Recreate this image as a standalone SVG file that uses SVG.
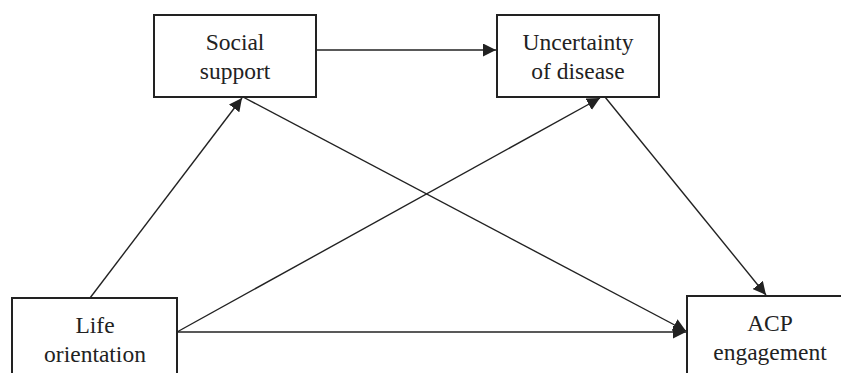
<svg xmlns="http://www.w3.org/2000/svg" width="841" height="373" viewBox="0 0 841 373">
<style>
.box{fill:#fff;stroke:#222;stroke-width:2}
.lbl{font-family:'Liberation Serif','DejaVu Serif',serif;font-size:23.5px;fill:#222;text-anchor:middle}
.edge{stroke:#222;stroke-width:1.4;fill:none;marker-end:url(#arr)}
</style>
<defs>
<marker id="arr" viewBox="0 0 10 10" refX="10" refY="5" markerWidth="13" markerHeight="13" markerUnits="userSpaceOnUse" orient="auto">
<path d="M0,0 L10,5 L0,10 z" fill="#222"/>
</marker>
</defs>
<rect width="841" height="373" fill="#fff"/>
<g id="connectors">
<line class="edge" x1="316" y1="50" x2="496" y2="50"/>
<line class="edge" x1="90" y1="298" x2="242" y2="98"/>
<line class="edge" x1="177" y1="332" x2="600" y2="98"/>
<line class="edge" x1="177" y1="332" x2="686" y2="332"/>
<line class="edge" x1="243" y1="97" x2="686" y2="331"/>
<line class="edge" x1="605" y1="97" x2="766" y2="295"/>
</g>
<g id="social-support">
<rect class="box" x="154" y="15" width="162" height="82"/>
<text class="lbl" font-family="Liberation Serif, serif" x="235" y="50">Social</text>
<text class="lbl" font-family="Liberation Serif, serif" x="235" y="79">support</text>
</g>
<g id="uncertainty">
<rect class="box" x="497" y="15" width="162" height="82"/>
<text class="lbl" font-family="Liberation Serif, serif" x="578" y="50">Uncertainty</text>
<text class="lbl" font-family="Liberation Serif, serif" x="578" y="79">of disease</text>
</g>
<g id="life-orientation">
<rect class="box" x="12" y="298" width="165" height="90"/>
<text class="lbl" font-family="Liberation Serif, serif" x="95" y="333">Life</text>
<text class="lbl" font-family="Liberation Serif, serif" x="95" y="362">orientation</text>
</g>
<g id="acp">
<rect class="box" x="687" y="296" width="166" height="90"/>
<text class="lbl" font-family="Liberation Serif, serif" x="770" y="331">ACP</text>
<text class="lbl" font-family="Liberation Serif, serif" x="770" y="360">engagement</text>
</g>
</svg>
